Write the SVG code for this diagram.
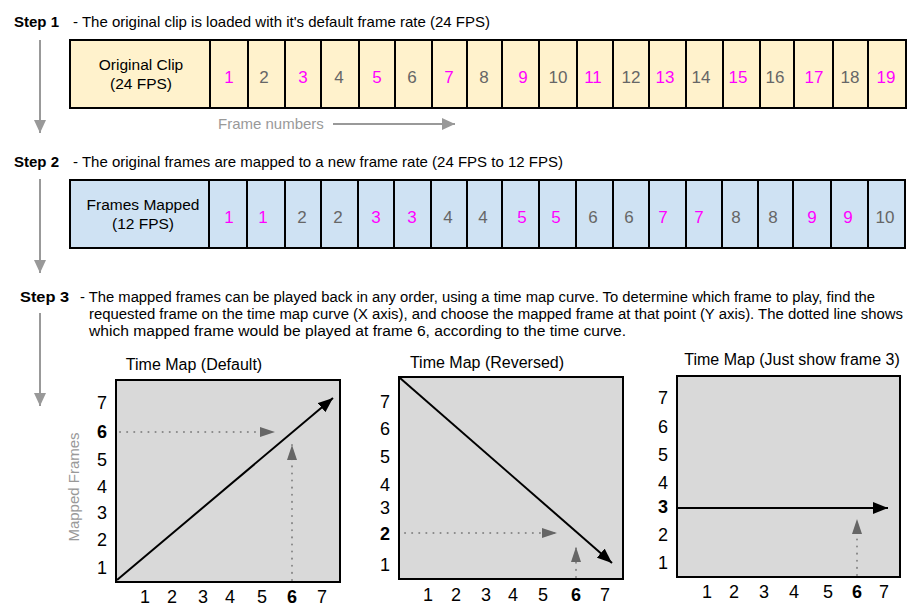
<svg xmlns="http://www.w3.org/2000/svg" width="920" height="616" viewBox="0 0 920 616">
<style>
text{font-family:"Liberation Sans",Arial,sans-serif;}
.step{font-size:15px;font-weight:bold;fill:#000;}
.desc{font-size:15px;fill:#000;}
.narrow{font-family:"Liberation Sans Narrow","Liberation Sans",Arial,sans-serif;font-size:14px;fill:#000;}
.lbl{font-size:15.5px;fill:#000;text-anchor:middle;}
.num{font-size:17px;text-anchor:middle;}
.odd{fill:#ff00ff;}
.even{fill:#666666;}
.cell1{fill:#fff2cc;stroke:#000;stroke-width:2;}
.cell2{fill:#cfe2f3;stroke:#000;stroke-width:2;}
.plot{fill:#d9d9d9;stroke:#000;stroke-width:2;}
.ax{font-size:18px;fill:#000;text-anchor:middle;}
.b{font-weight:bold;}
.title{font-size:16px;fill:#000;text-anchor:middle;}
.gray{font-size:15px;fill:#999;}
.steparrow{stroke:#999;stroke-width:2;fill:none;marker-end:url(#ga);}
.curve{stroke:#000;stroke-width:2;fill:none;marker-end:url(#ba);}
.dot{stroke:#888;stroke-width:2;fill:none;stroke-dasharray:0.1 7;stroke-linecap:round;marker-end:url(#da);}
</style>
<defs>
<marker id="ga" markerUnits="userSpaceOnUse" markerWidth="14" markerHeight="12" refX="13" refY="6" orient="auto"><path d="M0,0 L13,6 L0,12 z" fill="#999"/></marker>
<marker id="ba" markerUnits="userSpaceOnUse" markerWidth="16" markerHeight="12" refX="15" refY="6" orient="auto"><path d="M0,0 L15,6 L0,12 z" fill="#000"/></marker>
<marker id="da" markerUnits="userSpaceOnUse" markerWidth="16" markerHeight="12" refX="15" refY="6" orient="auto"><path d="M0,1 L15,6 L0,11 z" fill="#666"/></marker>
</defs>

<g id="step1-label">
<text class="step" x="14" y="27">Step 1</text>
<text class="desc" x="73" y="27">- The original clip is loaded with it's default frame rate (24 FPS)</text>
</g>

<g id="original-clip">
<rect class="cell1" x="70" y="40" width="140" height="68"/>
<text class="lbl" x="141" y="70">Original Clip</text>
<text class="lbl" x="141" y="89">(24 FPS)</text>
<rect class="cell1" x="210" y="40" width="38" height="68"/><text class="num odd" x="229" y="83">1</text>
<rect class="cell1" x="248" y="40" width="37" height="68"/><text class="num even" x="264" y="83">2</text>
<rect class="cell1" x="285" y="40" width="36" height="68"/><text class="num odd" x="303" y="83">3</text>
<rect class="cell1" x="321" y="40" width="38" height="68"/><text class="num even" x="339" y="83">4</text>
<rect class="cell1" x="359" y="40" width="36" height="68"/><text class="num odd" x="377" y="83">5</text>
<rect class="cell1" x="395" y="40" width="37" height="68"/><text class="num even" x="412" y="83">6</text>
<rect class="cell1" x="432" y="40" width="35" height="68"/><text class="num odd" x="449" y="83">7</text>
<rect class="cell1" x="467" y="40" width="35" height="68"/><text class="num even" x="484" y="83">8</text>
<rect class="cell1" x="502" y="40" width="37" height="68"/><text class="num odd" x="523" y="83">9</text>
<rect class="cell1" x="539" y="40" width="38" height="68"/><text class="num even" x="558" y="83">10</text>
<rect class="cell1" x="577" y="40" width="36" height="68"/><text class="num odd" x="593" y="83">11</text>
<rect class="cell1" x="613" y="40" width="36" height="68"/><text class="num even" x="631" y="83">12</text>
<rect class="cell1" x="649" y="40" width="37" height="68"/><text class="num odd" x="665" y="83">13</text>
<rect class="cell1" x="686" y="40" width="37" height="68"/><text class="num even" x="701" y="83">14</text>
<rect class="cell1" x="723" y="40" width="37" height="68"/><text class="num odd" x="738" y="83">15</text>
<rect class="cell1" x="760" y="40" width="34" height="68"/><text class="num even" x="775" y="83">16</text>
<rect class="cell1" x="794" y="40" width="39" height="68"/><text class="num odd" x="814" y="83">17</text>
<rect class="cell1" x="833" y="40" width="35" height="68"/><text class="num even" x="850" y="83">18</text>
<rect class="cell1" x="868" y="40" width="38" height="68"/><text class="num odd" x="886" y="83">19</text>
</g>

<g id="frame-numbers">
<text class="gray" x="218" y="129">Frame numbers</text>
</g>

<g id="step2-label">
<text class="step" x="14" y="167">Step 2</text>
<text class="desc" x="73" y="167">- The original frames are mapped to a new frame rate (24 FPS to 12 FPS)</text>
</g>

<g id="frames-mapped">
<rect class="cell2" x="70" y="180" width="139" height="68"/>
<text class="lbl" x="143" y="210">Frames Mapped</text>
<text class="lbl" x="143" y="229">(12 FPS)</text>
<rect class="cell2" x="209" y="180" width="38" height="68"/><text class="num odd" x="229" y="223">1</text>
<rect class="cell2" x="247" y="180" width="38" height="68"/><text class="num odd" x="263" y="223">1</text>
<rect class="cell2" x="285" y="180" width="36" height="68"/><text class="num even" x="302" y="223">2</text>
<rect class="cell2" x="321" y="180" width="37" height="68"/><text class="num even" x="338" y="223">2</text>
<rect class="cell2" x="358" y="180" width="36" height="68"/><text class="num odd" x="376" y="223">3</text>
<rect class="cell2" x="394" y="180" width="37" height="68"/><text class="num odd" x="412" y="223">3</text>
<rect class="cell2" x="431" y="180" width="36" height="68"/><text class="num even" x="448" y="223">4</text>
<rect class="cell2" x="467" y="180" width="35" height="68"/><text class="num even" x="483" y="223">4</text>
<rect class="cell2" x="502" y="180" width="37" height="68"/><text class="num odd" x="522" y="223">5</text>
<rect class="cell2" x="539" y="180" width="37" height="68"/><text class="num odd" x="556" y="223">5</text>
<rect class="cell2" x="576" y="180" width="37" height="68"/><text class="num even" x="593" y="223">6</text>
<rect class="cell2" x="613" y="180" width="36" height="68"/><text class="num even" x="629" y="223">6</text>
<rect class="cell2" x="649" y="180" width="37" height="68"/><text class="num odd" x="663" y="223">7</text>
<rect class="cell2" x="686" y="180" width="36" height="68"/><text class="num odd" x="699" y="223">7</text>
<rect class="cell2" x="722" y="180" width="36" height="68"/><text class="num even" x="736" y="223">8</text>
<rect class="cell2" x="758" y="180" width="35" height="68"/><text class="num even" x="773" y="223">8</text>
<rect class="cell2" x="793" y="180" width="38" height="68"/><text class="num odd" x="812" y="223">9</text>
<rect class="cell2" x="831" y="180" width="37" height="68"/><text class="num odd" x="848" y="223">9</text>
<rect class="cell2" x="868" y="180" width="37" height="68"/><text class="num even" x="885" y="223">10</text>
</g>

<g id="step3-label">
<text class="narrow" x="20" y="302" font-weight="bold" textLength="49" lengthAdjust="spacingAndGlyphs">Step 3</text>
<text class="narrow" x="80" y="302" textLength="795" lengthAdjust="spacingAndGlyphs">- The mapped frames can be played back in any order, using a time map curve.  To determine which frame to play, find the</text>
<text class="narrow" x="89" y="319" textLength="814" lengthAdjust="spacingAndGlyphs">requested frame on the time map curve (X axis), and choose the mapped frame at that point (Y axis).  The dotted line shows</text>
<text class="narrow" x="89" y="336" textLength="537" lengthAdjust="spacingAndGlyphs">which mapped frame would be played at frame 6, according to the time curve.</text>
</g>

<g id="chart-default">
<text class="title" x="194" y="370">Time Map (Default)</text>
<rect class="plot" x="116" y="380" width="224" height="202"/>
<text class="ax" x="102" y="409">7</text>
<text class="ax b" x="102" y="438">6</text>
<text class="ax" x="102" y="466">5</text>
<text class="ax" x="102" y="493">4</text>
<text class="ax" x="102" y="519">3</text>
<text class="ax" x="102" y="546">2</text>
<text class="ax" x="102" y="574">1</text>
<text class="ax" x="145" y="603">1</text>
<text class="ax" x="172" y="603">2</text>
<text class="ax" x="203" y="603">3</text>
<text class="ax" x="230" y="603">4</text>
<text class="ax" x="262" y="603">5</text>
<text class="ax b" x="292" y="603">6</text>
<text class="ax" x="322" y="603">7</text>
<text font-size="15" fill="#999" text-anchor="middle" transform="translate(79,487) rotate(-90)">Mapped Frames</text>
<text font-size="16" fill="#999" x="167" y="628">Requested Frames</text>
</g>

<g id="chart-reversed">
<text class="title" x="487" y="368">Time Map (Reversed)</text>
<rect class="plot" x="399" y="377" width="224" height="202"/>
<text class="ax" x="385" y="408">7</text>
<text class="ax" x="385" y="435">6</text>
<text class="ax" x="385" y="463">5</text>
<text class="ax" x="385" y="491">4</text>
<text class="ax" x="385" y="514">3</text>
<text class="ax b" x="385" y="540">2</text>
<text class="ax" x="385" y="571">1</text>
<text class="ax" x="428" y="601">1</text>
<text class="ax" x="456" y="601">2</text>
<text class="ax" x="486" y="601">3</text>
<text class="ax" x="513" y="601">4</text>
<text class="ax" x="543" y="601">5</text>
<text class="ax b" x="576" y="601">6</text>
<text class="ax" x="605" y="601">7</text>
</g>

<g id="chart-frame3">
<text class="title" x="792" y="365">Time Map (Just show frame 3)</text>
<rect class="plot" x="677" y="376" width="223" height="201"/>
<text class="ax" x="663" y="404">7</text>
<text class="ax" x="663" y="433">6</text>
<text class="ax" x="663" y="461">5</text>
<text class="ax" x="663" y="489">4</text>
<text class="ax b" x="663" y="513">3</text>
<text class="ax" x="663" y="541">2</text>
<text class="ax" x="663" y="569">1</text>
<text class="ax" x="707" y="598">1</text>
<text class="ax" x="734" y="598">2</text>
<text class="ax" x="764" y="598">3</text>
<text class="ax" x="794" y="598">4</text>
<text class="ax" x="828" y="598">5</text>
<text class="ax b" x="857" y="598">6</text>
<text class="ax" x="884" y="598">7</text>
</g>

<g id="connectors">
<line class="steparrow" x1="40" y1="40" x2="40" y2="133"/>
<line class="steparrow" x1="40" y1="179" x2="40" y2="273"/>
<line class="steparrow" x1="40" y1="313" x2="40" y2="406"/>
<line class="steparrow" x1="333" y1="124" x2="455" y2="124"/>
<line class="curve" x1="117" y1="580" x2="333" y2="398"/>
<line class="dot" x1="120" y1="432" x2="275" y2="432"/>
<line class="dot" x1="292" y1="580" x2="292" y2="445"/>
<line class="curve" x1="400" y1="378" x2="612" y2="563"/>
<line class="dot" x1="405" y1="533" x2="557" y2="533"/>
<line class="dot" x1="576" y1="577" x2="576" y2="547"/>
<line class="curve" x1="678" y1="508" x2="888" y2="508"/>
<line class="dot" x1="857" y1="575" x2="857" y2="519"/>
</g>
</svg>
